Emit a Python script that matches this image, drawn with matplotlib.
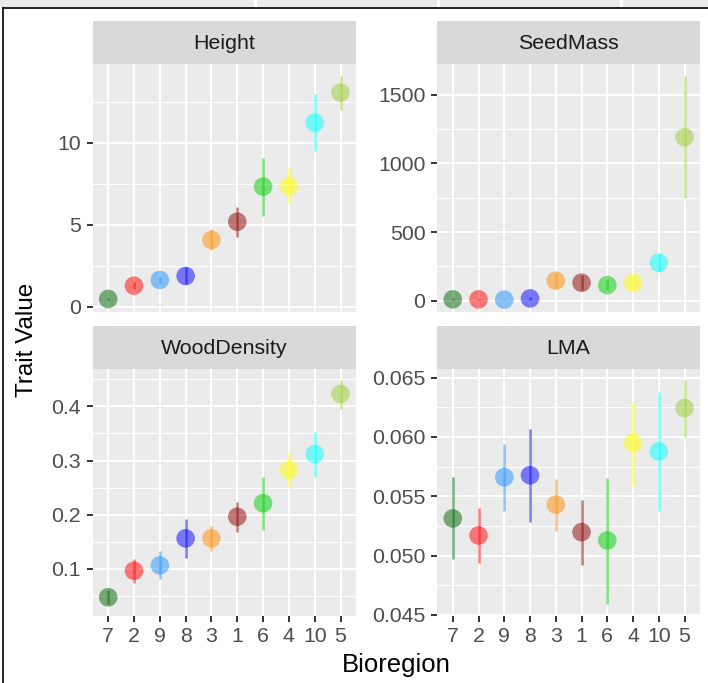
import matplotlib
matplotlib.use("Agg")
import matplotlib.pyplot as plt
from matplotlib.ticker import FixedLocator, AutoMinorLocator, FuncFormatter
from matplotlib.patches import Rectangle
from matplotlib.lines import Line2D
import numpy as np

plt.rcParams['font.family'] = ['Liberation Sans', 'DejaVu Sans']

# ---------------- data ----------------
bioregions = ["7", "2", "9", "8", "3", "1", "6", "4", "10", "5"]
colors = ["#006400", "#FF0000", "#1E90FF", "#0000FF", "#FF8C00",
          "#8B0000", "#00CD00", "#FFFF00", "#00FFFF", "#9ACD32"]

height_mean = [0.47, 1.28, 1.63, 1.87, 4.07, 5.18, 7.32, 7.36, 11.22, 13.05]
height_lo = [0.38, 1.08, 1.43, 1.40, 3.46, 4.27, 5.55, 6.26, 9.49, 12.00]
height_hi = [0.56, 1.48, 1.83, 2.40, 4.72, 6.10, 9.09, 8.48, 12.95, 14.09]

seed_mean = [10, 10, 8, 17, 146, 131, 114, 131, 277, 1191]
seed_lo = [2, 4, 3, 8, 90, 80, 75, 90, 211, 751]
seed_hi = [20, 16, 14, 28, 205, 185, 160, 175, 342, 1640]

wd_mean = [0.047, 0.096, 0.106, 0.156, 0.156, 0.196, 0.221, 0.283, 0.312, 0.423]
wd_lo = [0.034, 0.074, 0.080, 0.119, 0.133, 0.167, 0.171, 0.251, 0.270, 0.396]
wd_hi = [0.060, 0.117, 0.133, 0.192, 0.179, 0.224, 0.270, 0.314, 0.353, 0.448]

lma_mean = [0.05313, 0.05170, 0.05660, 0.05677, 0.05430, 0.05198, 0.05128, 0.05949, 0.05878, 0.06243]
lma_lo = [0.04968, 0.04935, 0.05380, 0.05287, 0.05211, 0.04918, 0.04590, 0.05590, 0.05374, 0.05996]
lma_hi = [0.05660, 0.05403, 0.05943, 0.06069, 0.05649, 0.05472, 0.05655, 0.06298, 0.06380, 0.06475]

panels = [
    ("Height", height_mean, height_lo, height_hi, [0, 5, 10], lambda v, p: f"{v:g}"),
    ("SeedMass", seed_mean, seed_lo, seed_hi, [0, 500, 1000, 1500], lambda v, p: f"{v:g}"),
    ("WoodDensity", wd_mean, wd_lo, wd_hi, [0.1, 0.2, 0.3, 0.4], lambda v, p: f"{v:.1f}"),
    ("LMA", lma_mean, lma_lo, lma_hi, [0.045, 0.050, 0.055, 0.060, 0.065], lambda v, p: f"{v:.3f}"),
]

# ---------------- layout (pixels) ----------------
W, H = 708, 683
fig = plt.figure(figsize=(W / 100, H / 100), dpi=100)
fig.patch.set_facecolor("white")

def fx(x):
    return x / W

def fy(y):
    return 1 - y / H

# top decoration band (cropped header)
fig.patches.append(Rectangle((0, fy(7.5)), 1, 7.5 / H, transform=fig.transFigure,
                             facecolor="#EBEBEB", edgecolor="none", zorder=0))
for sx in [255, 438, 621]:
    fig.lines.append(Line2D([fx(sx), fx(sx)], [fy(7.5), 1], transform=fig.transFigure,
                            color="white", lw=2.5))
fig.lines.append(Line2D([fx(2.5), 1], [fy(7.7), fy(7.7)], transform=fig.transFigure,
                        color="black", lw=1.2))
fig.lines.append(Line2D([fx(2.8), fx(2.8)], [0, fy(7.7)], transform=fig.transFigure,
                        color="black", lw=1.2))

col_x = [(92.7, 356.0), (437.3, 700.0)]
row_y = [(20.7, 64.3, 311.7), (326.0, 369.3, 615.5)]

tick_color = "#4D4D4D"
x = np.arange(1, len(bioregions) + 1)

for i, (name, mean, lo, hi, yt, fmt) in enumerate(panels):
    r, c = divmod(i, 2)
    x0, x1 = col_x[c]
    s0, p0, p1 = row_y[r]
    ax = fig.add_axes([fx(x0), fy(p1), (x1 - x0) / W, (p1 - p0) / H])
    ax.set_facecolor("#EBEBEB")
    for sp in ax.spines.values():
        sp.set_visible(False)

    lo_a, hi_a = np.min(lo), np.max(hi)
    rng = hi_a - lo_a
    ax.set_ylim(lo_a - 0.05 * rng, hi_a + 0.05 * rng)
    ax.set_xlim(0.4, len(bioregions) + 0.6)

    ax.yaxis.set_major_locator(FixedLocator(yt))
    ax.yaxis.set_minor_locator(AutoMinorLocator(2))
    ax.yaxis.set_major_formatter(FuncFormatter(fmt))
    ax.set_xticks(x)
    ax.set_xticklabels(bioregions)

    ax.set_axisbelow(True)
    ax.grid(which="major", color="white", lw=1.5)
    ax.grid(which="minor", axis="y", color="white", lw=0.8)
    ax.tick_params(which="major", length=4.5, width=1.4, color="#333333",
                   labelsize=15.3, labelcolor=tick_color, pad=4)
    ax.tick_params(which="minor", length=0)
    if r == 0:
        ax.tick_params(axis="x", which="both", length=0, labelbottom=False)

    ax.scatter(x, mean, s=13.4 ** 2, c=colors, alpha=0.5, linewidths=0, zorder=3)
    ax.vlines(x, lo, hi, colors=colors, lw=1.8, alpha=0.5, zorder=4)

    # strip
    sax = fig.add_axes([fx(x0), fy(p0), (x1 - x0) / W, (p0 - s0) / H])
    sax.set_facecolor("#D9D9D9")
    sax.set_xticks([])
    sax.set_yticks([])
    for sp in sax.spines.values():
        sp.set_visible(False)
    sax.text(0.5, 0.47, name, ha="center", va="center", fontsize=15.4,
             color="#1A1A1A", transform=sax.transAxes)

fig.text(fx(396.3), fy(665), "Bioregion", ha="center", va="center", fontsize=18.5)
fig.text(fx(27), fy(340), "Trait Value", ha="center", va="center", rotation=90, fontsize=17.5)

fig.savefig("out.png", dpi=100)
